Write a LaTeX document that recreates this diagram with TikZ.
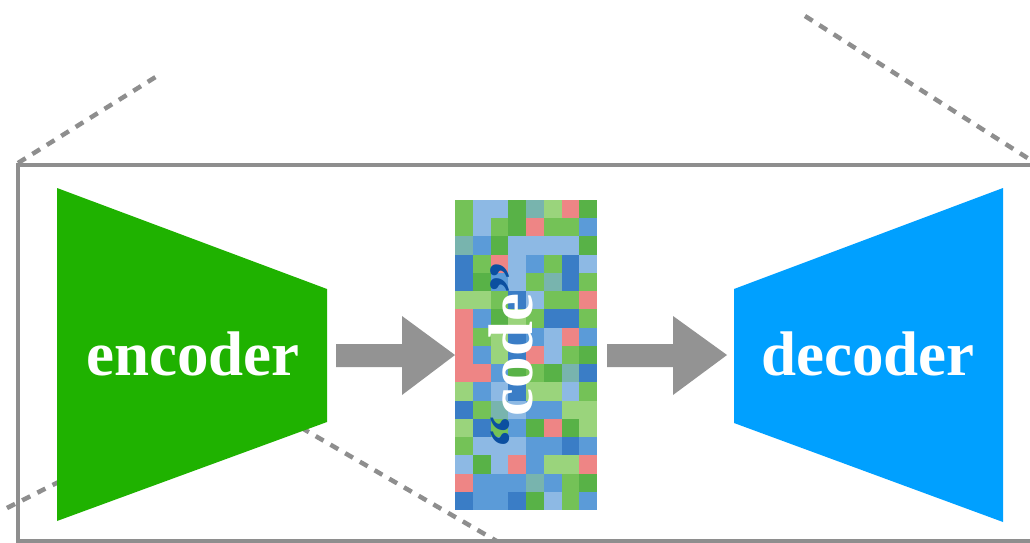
\documentclass[tikz,border=0pt]{standalone}
\usepackage{fontspec}
\setmainfont{Liberation Serif}
\definecolor{framegray}{HTML}{8E8E8E}
\definecolor{arrowgray}{HTML}{939393}
\definecolor{encgreen}{HTML}{1FB200}
\definecolor{decblue}{HTML}{00A0FF}
\definecolor{quoteblue}{HTML}{0B4FA0}
\definecolor{mA}{HTML}{58B247}
\definecolor{mB}{HTML}{9AD47C}
\definecolor{mC}{HTML}{3A7DC6}
\definecolor{mD}{HTML}{8DB9E4}
\definecolor{mE}{HTML}{5B9BD8}
\definecolor{mF}{HTML}{EE8585}
\definecolor{mG}{HTML}{78B4AE}
\definecolor{mH}{HTML}{74C257}
\tikzset{
  zoomline/.style={draw=framegray, line width=4.5pt, dash pattern=on 9pt off 8pt},
  framebox/.style={draw=framegray, line width=4.5pt},
  blockarrow/.style={fill=arrowgray},
  bigword/.style={text=white, font=\fontsize{63}{70}\selectfont\bfseries, inner sep=0pt},
}
\pgfmathdeclarerandomlist{mosaic}{{mA}{mB}{mC}{mD}{mE}{mF}{mG}{mH}{mA}{mC}{mD}{mE}{mB}{mH}{mE}{mD}}
\begin{document}
\begin{tikzpicture}[x=1pt, y=-1pt]
\clip (0,0) rectangle (1030,543);
\fill[white] (0,0) rectangle (1030,543);
% frame
\draw[framebox] (1060,165) -- (18,165) -- (18,541) -- (1060,541);
% zoom lines
\draw[zoomline] (18,163) -- (162,73);
\draw[zoomline] (805,16) -- (1040,166);
\draw[zoomline] (7,508) -- (120,451);
\draw[zoomline] (500,543) -- (250,398);
% encoder
\fill[encgreen] (57,188) -- (327,289) -- (327,422) -- (57,521) -- cycle;
\node[bigword, anchor=base] (enc) at (193,375) {encoder};
% decoder
\fill[decblue] (734,289) -- (1003,188) -- (1003,522) -- (734,423) -- cycle;
\node[bigword, anchor=base] (dec) at (868,375) {decoder};
% mosaic
\pgfmathsetseed{4217}
\foreach \r in {0,...,16}{
  \foreach \c in {0,...,7}{
    \pgfmathrandomitem{\mc}{mosaic}
    \fill[\mc] ({455+\c*17.75},{200+\r*18.24}) rectangle ++(17.9,18.4);
  }
}
\node[bigword, rotate=90, anchor=base] (code) at (532,355)
  {\textcolor{quoteblue}{“}code\textcolor{quoteblue}{”}};
% arrows
\fill[blockarrow] (336,344) -- (402,344) -- (402,316) -- (455,355) -- (402,395) -- (402,367) -- (336,367) -- cycle;
\fill[blockarrow] (607,344) -- (673,344) -- (673,316) -- (727,355) -- (673,395) -- (673,367) -- (607,367) -- cycle;
\end{tikzpicture}
\end{document}
